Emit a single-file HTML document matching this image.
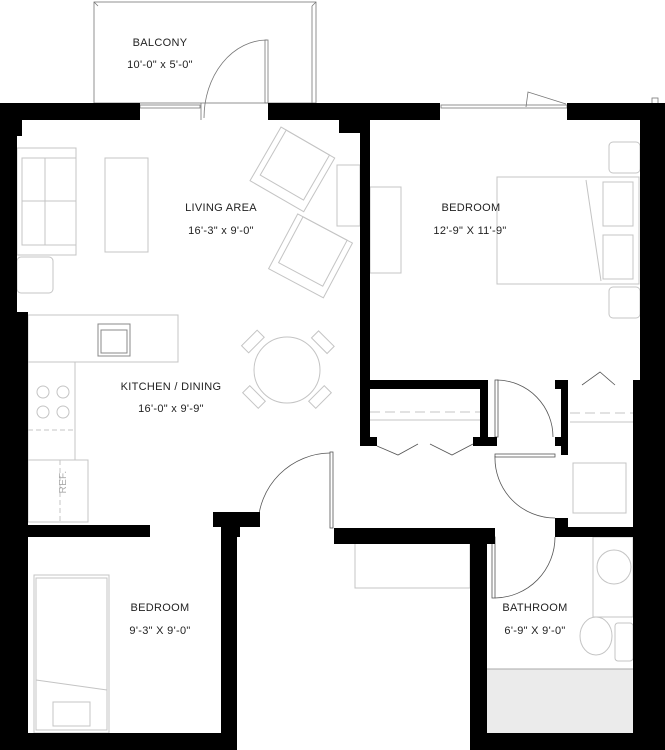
<!DOCTYPE html>
<html><head><meta charset="utf-8"><style>
html,body{margin:0;padding:0;background:#fff;width:665px;height:750px;overflow:hidden}
svg{display:block}
text{font-family:"Liberation Sans",sans-serif;font-size:11px;fill:#222;text-anchor:middle;letter-spacing:0.3px}
</style></head><body>
<svg width="665" height="750" viewBox="0 0 665 750" xmlns="http://www.w3.org/2000/svg">
<g fill="none" stroke="#777" stroke-width="0.8">
<rect x="94" y="2" width="222" height="101"/>
<line x1="94" y1="2" x2="98" y2="6"/><line x1="316" y1="2" x2="312" y2="6"/>
<line x1="312" y1="6" x2="312" y2="103"/>
<path d="M204 118 A63 78 0 0 1 267 40"/>
<rect x="265" y="40" width="3" height="63"/>
<rect x="140" y="105" width="60" height="3"/>
<line x1="201" y1="103" x2="201" y2="120"/>
<rect x="441" y="105" width="126" height="3"/>
<path d="M526 107 L528 92 L566 104"/>
<rect x="652" y="98" width="6" height="6"/>
</g>
<g fill="none" stroke="#c4c4c4" stroke-width="1">
<rect x="17" y="148" width="59" height="107"/>
<rect x="22" y="158" width="54" height="87"/>
<line x1="45" y1="158" x2="45" y2="245"/><line x1="22" y1="201" x2="76" y2="201"/>
<rect x="105" y="158" width="43" height="94"/>
<rect x="17" y="257" width="36" height="36" rx="4"/>
<g transform="rotate(30 292 168)"><rect x="262" y="138" width="62" height="62"/><rect x="268" y="138" width="50" height="52"/></g>
<g transform="rotate(28 311 255)"><rect x="280" y="225" width="62" height="62"/><rect x="286" y="225" width="50" height="52"/></g>
<rect x="337" y="165" width="23" height="61"/>
<rect x="28" y="315" width="150" height="47"/>
<rect x="28" y="362" width="47" height="98"/>
<rect x="28" y="460" width="60" height="62"/>
<line x1="60" y1="460" x2="60" y2="522" stroke-dasharray="5 3"/>
<line x1="28" y1="430" x2="75" y2="430" stroke-dasharray="5 3"/>
<rect x="98" y="324" width="32" height="32" stroke="#888"/>
<rect x="101" y="330" width="26" height="23" stroke="#888"/>
<circle cx="43" cy="392" r="6"/><circle cx="63" cy="392" r="6"/><circle cx="43" cy="412" r="6"/><circle cx="63" cy="412" r="6"/>
<circle cx="287" cy="370" r="33"/>
<g transform="rotate(-45 255 345)"><rect x="245" y="336" width="22" height="10"/></g>
<g transform="rotate(45 320 345)"><rect x="309" y="336" width="22" height="10"/></g>
<g transform="rotate(45 254 397)"><rect x="243" y="392" width="22" height="10"/></g>
<g transform="rotate(-45 320 397)"><rect x="309" y="392" width="22" height="10"/></g>
<rect x="497" y="177" width="142" height="107"/>
<line x1="586" y1="180" x2="601" y2="281"/>
<rect x="603" y="182" width="30" height="44"/><rect x="603" y="235" width="30" height="44"/>
<rect x="609" y="142" width="31" height="31" rx="4"/>
<rect x="609" y="287" width="31" height="31" rx="4"/>
<rect x="370" y="187" width="31" height="86"/>
<rect x="34" y="575" width="75" height="158"/>
<rect x="36" y="578" width="71" height="152"/>
<line x1="36" y1="680" x2="107" y2="690"/>
<rect x="53" y="702" width="37" height="24"/>
<rect x="355" y="543" width="115" height="45"/>
<rect x="573" y="463" width="53" height="50"/>
<rect x="593" y="537" width="40" height="80"/>
<ellipse cx="614" cy="567" rx="17" ry="17"/>
<ellipse cx="596" cy="636" rx="16" ry="19"/>
<rect x="615" y="623" width="18" height="38" rx="3"/>
<line x1="370" y1="412" x2="480" y2="412" stroke-dasharray="10 5"/>
<line x1="370" y1="420" x2="480" y2="420"/>
<line x1="570" y1="413" x2="633" y2="413" stroke-dasharray="10 5"/>
<line x1="570" y1="422" x2="633" y2="422"/>
</g>
<rect x="487" y="669" width="146" height="64" fill="#ebebeb"/>
<line x1="487" y1="669" x2="633" y2="669" stroke="#aaa" stroke-width="1"/>
<text x="66" y="482" transform="rotate(-90 66 482)" style="fill:#aaa;font-size:10px">REF.</text>
<g fill="none" stroke="#555" stroke-width="0.8">
<path d="M258 525 A73 73 0 0 1 330 453"/>
<rect x="330" y="452" width="3" height="76"/>
<path d="M497 380 A57 57 0 0 1 553 437"/>
<rect x="495" y="380" width="3" height="57"/>
<path d="M495 456 A60 60 0 0 0 555 518"/>
<rect x="495" y="454" width="60" height="3"/>
<path d="M555 537 A61 61 0 0 1 495 598"/>
<rect x="492" y="537" width="3" height="61"/>
<path d="M377 446 L398 455 L418 444 M430 444 L452 455 L473 444"/>
<path d="M582 385 L600 372 L615 385"/>
</g>
<g fill="#000">
<rect x="0" y="103" width="140" height="17"/>
<rect x="0" y="103" width="17" height="647"/>
<rect x="0" y="103" width="22" height="33"/>
<rect x="0" y="312" width="28" height="438"/>
<rect x="268" y="103" width="172" height="17"/>
<rect x="339" y="103" width="31" height="30"/>
<rect x="360" y="103" width="10" height="343"/>
<rect x="567" y="103" width="98" height="17"/>
<rect x="640" y="103" width="25" height="290"/>
<rect x="633" y="380" width="32" height="370"/>
<rect x="0" y="525" width="150" height="12"/>
<rect x="0" y="733" width="237" height="17"/>
<rect x="221" y="512" width="16" height="238"/>
<rect x="213" y="512" width="47" height="15"/>
<rect x="223" y="512" width="17" height="25"/>
<rect x="334" y="528" width="161" height="16"/>
<rect x="470" y="528" width="17" height="222"/>
<rect x="470" y="733" width="195" height="17"/>
<rect x="360" y="380" width="128" height="9"/>
<rect x="480" y="380" width="8" height="66"/>
<rect x="360" y="437" width="17" height="9"/>
<rect x="473" y="437" width="24" height="9"/>
<rect x="561" y="380" width="7" height="75"/>
<rect x="555" y="380" width="13" height="9"/>
<rect x="555" y="437" width="13" height="9"/>
<rect x="555" y="518" width="13" height="19"/>
<rect x="555" y="527" width="85" height="10"/>
</g>
<text x="160" y="46">BALCONY</text>
<text x="160" y="68">10'-0" x 5'-0"</text>
<text x="221" y="211">LIVING AREA</text>
<text x="221" y="234">16'-3" x 9'-0"</text>
<text x="471" y="211">BEDROOM</text>
<text x="470" y="234">12'-9" X 11'-9"</text>
<text x="171" y="390">KITCHEN / DINING</text>
<text x="171" y="412">16'-0" x 9'-9"</text>
<text x="160" y="611">BEDROOM</text>
<text x="160" y="634">9'-3" X 9'-0"</text>
<text x="535" y="611">BATHROOM</text>
<text x="535" y="634">6'-9" X 9'-0"</text>
</svg>
</body></html>
